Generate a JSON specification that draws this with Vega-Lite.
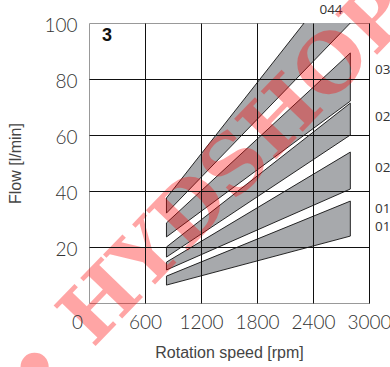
{
  "$schema": "https://vega.github.io/schema/vega-lite/v6.json",
  "width": 280,
  "height": 280,
  "autosize": {"type": "none"},
  "padding": {"left": 89, "top": 23, "right": 21, "bottom": 64},
  "config": {"view": {"stroke": "#999", "strokeWidth": 1}},
  "datasets": {
    "bands": [
      {"band": "044", "rpm": 830, "lo": 32.1, "hi": 37.5},
      {"band": "044", "rpm": 2800, "lo": 100, "hi": 121},
      {"band": "036", "rpm": 830, "lo": 23.6, "hi": 28.6},
      {"band": "036", "rpm": 2800, "lo": 72.1, "hi": 89.3},
      {"band": "028", "rpm": 830, "lo": 16.4, "hi": 20.0},
      {"band": "028", "rpm": 2800, "lo": 60.0, "hi": 71.4},
      {"band": "022", "rpm": 830, "lo": 11.8, "hi": 14.6},
      {"band": "022", "rpm": 2800, "lo": 40.7, "hi": 53.9},
      {"band": "016", "rpm": 830, "lo": 6.4, "hi": 9.6},
      {"band": "016", "rpm": 2800, "lo": 23.9, "hi": 36.4}
    ],
    "toplabel": [{"label": "044", "rpm": 2593, "flow": 104.6}],
    "sidelabels": [
      {"label": "036", "rpm": 3064, "flow": 83.2},
      {"label": "028", "rpm": 3064, "flow": 66.4},
      {"label": "022", "rpm": 3064, "flow": 48.2},
      {"label": "016", "rpm": 3064, "flow": 33.6},
      {"label": "014", "rpm": 3064, "flow": 27.1}
    ],
    "panel": [{"label": "3", "rpm": 193, "flow": 95.4}],
    "mark": [{"text": "• HYDSHOP", "rpm": 1296, "flow": 39.2}]
  },
  "layer": [
    {
      "data": {"name": "bands"},
      "mark": {"type": "area", "fill": "#a7a9ac", "stroke": "#111", "strokeWidth": 0.9, "clip": true, "orient": "vertical"},
      "encoding": {
        "x": {
          "field": "rpm", "type": "quantitative",
          "scale": {"domain": [0, 3000], "nice": false, "zero": false},
          "axis": {
            "values": [0, 600, 1200, 1800, 2400, 3000],
            "format": "d",
            "grid": true,
            "gridColor": "#111",
            "gridOpacity": {"condition": {"test": "datum.value == 0", "value": 0}, "value": 1},
            "ticks": false, "domain": false, "zindex": 1,
            "labelFont": "Lato", "labelFontWeight": 300, "labelFontSize": 19, "labelColor": "#333",
            "labelPadding": 10, "labelFlush": false,
            "labelOffset": {"expr": "datum.value == 0 ? -12 : 0"},
            "title": "Rotation speed [rpm]",
            "titleFont": "Liberation Sans", "titleFontWeight": "normal", "titleFontSize": 16, "titleColor": "#444",
            "titlePadding": 12
          }
        },
        "y": {
          "field": "lo", "type": "quantitative",
          "scale": {"domain": [0, 100], "nice": false},
          "axis": {
            "values": [0, 20, 40, 60, 80, 100],
            "labelExpr": "datum.value == 0 ? '' : datum.label",
            "grid": true,
            "gridColor": "#111",
            "gridOpacity": {"condition": {"test": "datum.value == 0 || datum.value == 100", "value": 0}, "value": 1},
            "ticks": false, "domain": false, "zindex": 1,
            "labelFont": "Lato", "labelFontWeight": 300, "labelFontSize": 19, "labelColor": "#333",
            "labelPadding": 12, "labelOffset": 2,
            "title": "Flow [l/min]",
            "titleFont": "Liberation Sans", "titleFontWeight": "normal", "titleFontSize": 16, "titleColor": "#444",
            "titlePadding": 20
          }
        },
        "y2": {"field": "hi"},
        "detail": {"field": "band"}
      }
    },
    {
      "data": {"name": "toplabel"},
      "mark": {"type": "text", "font": "Open Sans", "fontSize": 13.5, "color": "#333", "align": "center", "baseline": "middle"},
      "encoding": {
        "x": {"field": "rpm", "type": "quantitative"},
        "y": {"field": "flow", "type": "quantitative"},
        "text": {"field": "label"}
      }
    },
    {
      "data": {"name": "sidelabels"},
      "mark": {"type": "text", "font": "Open Sans", "fontSize": 13.5, "color": "#333", "align": "left", "baseline": "middle"},
      "encoding": {
        "x": {"field": "rpm", "type": "quantitative"},
        "y": {"field": "flow", "type": "quantitative"},
        "text": {"field": "label"}
      }
    },
    {
      "data": {"name": "panel"},
      "mark": {"type": "text", "font": "Liberation Sans", "fontWeight": "bold", "fontSize": 18, "color": "#111", "align": "center", "baseline": "middle"},
      "encoding": {
        "x": {"field": "rpm", "type": "quantitative"},
        "y": {"field": "flow", "type": "quantitative"},
        "text": {"field": "label"}
      }
    },
    {
      "data": {"name": "mark"},
      "mark": {"type": "text", "font": "DejaVu Serif", "fontWeight": "bold", "fontSize": 80, "color": "#ff0000", "opacity": 0.35, "angle": 314, "align": "center", "baseline": "middle"},
      "encoding": {
        "x": {"field": "rpm", "type": "quantitative"},
        "y": {"field": "flow", "type": "quantitative"},
        "text": {"field": "text"}
      }
    }
  ]
}
